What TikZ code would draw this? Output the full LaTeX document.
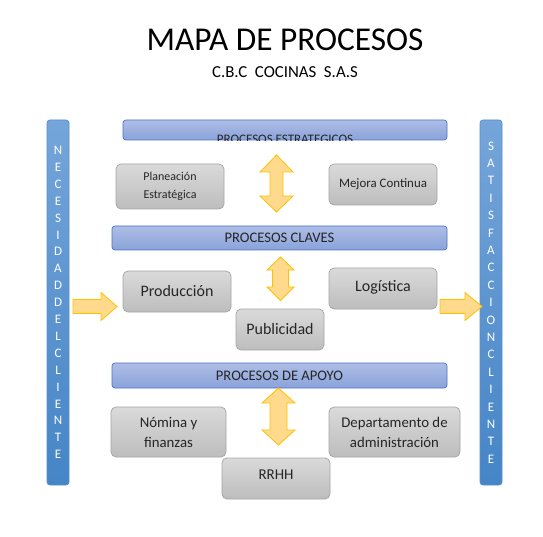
\documentclass[tikz,border=0pt]{standalone}
\usepackage{fontspec}
\setmainfont{Carlito}
\definecolor{barTop}{HTML}{AEBDE6}
\definecolor{barBot}{HTML}{8AA3DA}
\definecolor{barBorder}{HTML}{4A74C4}
\definecolor{grayTop}{HTML}{DADADA}
\definecolor{grayBot}{HTML}{BDBDBD}
\definecolor{grayBorder}{HTML}{A5A5A5}
\definecolor{sideTop}{HTML}{75A5DA}
\definecolor{sideBot}{HTML}{4585C6}
\definecolor{sideBorder}{HTML}{5B8FCB}
\definecolor{arrFill}{HTML}{FFD98C}
\definecolor{arrBorder}{HTML}{FFC000}
\definecolor{txt}{HTML}{262626}
\newcommand{\vdarrow}[7]{% cx, top, headbase1, headbase2, bottom, halfhead, halfshaft
  \draw[arrowshape] (#1,#2) -- (#1+#6,#3) -- (#1+#7,#3) -- (#1+#7,#4) -- (#1+#6,#4) -- (#1,#5)
    -- (#1-#6,#4) -- (#1-#7,#4) -- (#1-#7,#3) -- (#1-#6,#3) -- cycle;}
\newcommand{\hrarrow}[6]{% left, headbase, tip, cy, halfhead, halfshaft
  \draw[arrowshape] (#1,#4-#6) -- (#2,#4-#6) -- (#2,#4-#5) -- (#3,#4) -- (#2,#4+#5) -- (#2,#4+#6) -- (#1,#4+#6) -- cycle;}
\begin{document}
\begin{tikzpicture}[x=1pt,y=-1pt,
  procbar/.style={draw=barBorder, rounded corners=3pt, top color=barTop, bottom color=barBot, line width=0.7pt, text=txt, font=\fontsize{14.6}{16}\selectfont},
  graybox/.style={draw=grayBorder, rounded corners=5pt, top color=grayTop, bottom color=grayBot, line width=0.7pt, text=txt, align=center},
  sidebar/.style={draw=sideBorder, rounded corners=3pt, top color=sideTop, bottom color=sideBot, line width=0.7pt, text=white, align=center, minimum width=22pt, minimum height=365pt},
  arrowshape/.style={draw=arrBorder, fill=arrFill, line width=0.8pt, line join=miter}]
\useasboundingbox (0,0) rectangle (543,537);
\fill[white] (0,0) rectangle (543,537);

% titles
\node[text=black, font=\fontsize{33.3}{36}\selectfont] (title) at (285,40) {MAPA DE PROCESOS};
\node[text=black, font=\fontsize{16.8}{18}\selectfont] (sub) at (285,72) {C.B.C\ \ COCINAS\ \ S.A.S};

% side bars
\node[sidebar, font=\fontsize{13}{16.9}\selectfont] (left) at (58,302.5) {N\\E\\C\\E\\S\\I\\D\\A\\D\\D\\E\\L\\C\\L\\I\\E\\N\\T\\E};
\node[sidebar, font=\fontsize{13}{17.4}\selectfont] (right) at (491,302.5) {S\\A\\T\\I\\S\\F\\A\\C\\C\\I\\O\\N\\C\\L\\I\\E\\N\\T\\E};

% strategic
\node[procbar, minimum width=324pt, minimum height=20pt] (estr) at (285,130) {};
\begin{scope}
\clip (estr.north west) rectangle (estr.south east);
\node[text=txt, font=\fontsize{13}{14}\selectfont] (estrtxt) at (285,139) {PROCESOS ESTRATEGICOS};
\end{scope}
\node[graybox, minimum width=108pt, minimum height=45pt, font=\fontsize{12}{18}\selectfont] (plan) at (170,186.5) {Planeación\\Estratégica};
\node[graybox, minimum width=108pt, minimum height=41pt, font=\fontsize{12.9}{14}\selectfont] (mejora) at (383,184.5) {Mejora Continua};
\vdarrow{276.5}{155}{172}{196}{212}{16.5}{6.5}

% key
\node[procbar, minimum width=335pt, minimum height=24pt] (claves) at (279.5,238) {PROCESOS CLAVES};
\node[graybox, minimum width=108pt, minimum height=41pt, font=\fontsize{16}{18}\selectfont] (prod) at (177,291.5) {Producción};
\node[graybox, minimum width=108pt, minimum height=41pt, font=\fontsize{16}{18}\selectfont, text depth=7pt, text height=13pt] (log) at (383,288.5) {Logística};
\node[graybox, minimum width=88pt, minimum height=41pt, font=\fontsize{16}{18}\selectfont] (pub) at (280,329.5) {Publicidad};
\vdarrow{280.5}{257}{270}{287}{300.5}{13.5}{8}
\hrarrow{73}{101}{117}{306.5}{14}{7}
\hrarrow{440}{465}{482}{306.5}{14}{7}

% support
\node[procbar, minimum width=335pt, minimum height=25pt] (apoyo) at (279.5,375.5) {PROCESOS DE APOYO};
\node[graybox, minimum width=115pt, minimum height=50pt, font=\fontsize{14.8}{20}\selectfont] (nomina) at (168.5,432) {Nómina y\\finanzas};
\node[graybox, minimum width=131pt, minimum height=50pt, font=\fontsize{14.8}{20}\selectfont] (depto) at (394.5,432) {Departamento de\\administración};
\node[graybox, minimum width=108pt, minimum height=41pt, font=\fontsize{15}{16}\selectfont, text depth=8pt] (rrhh) at (276,478.5) {RRHH};
\vdarrow{278.5}{388}{403}{430}{445}{16.5}{8.5}
\end{tikzpicture}
\end{document}
